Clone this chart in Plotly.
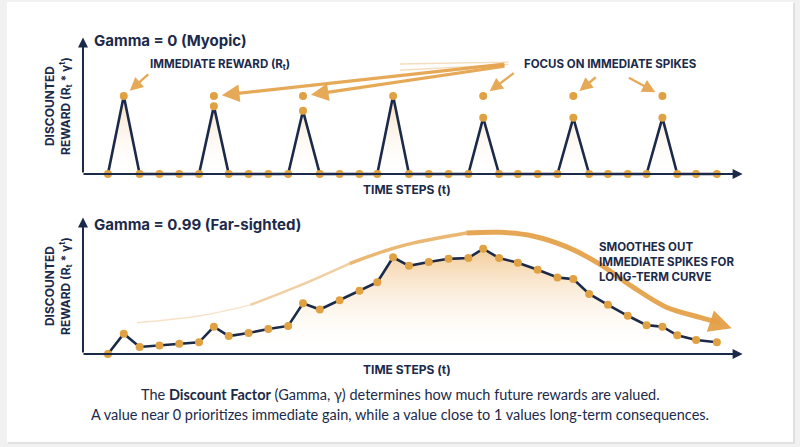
import plotly.graph_objects as go

# Time positions (shared by both panels) and rewards.
time_steps = [0, 0.8, 1.6, 2.6, 3.6, 4.6, 5.35, 6.1, 7.1, 8.1, 9.1, 9.85, 10.7, 11.7,
              12.7, 13.6, 14.4, 15.2, 16.2, 17.2, 18.2, 18.95, 19.75, 20.7, 21.7,
              22.7, 23.5, 24.3, 25.25, 26.25, 27.2, 28.0, 28.75, 29.7, 30.75]

# Gamma = 0: spikes only, the rest of the steps are zero.
myopic_reward = [0, 1.0, 0, 0, 0, 0, 0.87, 0, 0, 0, 0, 0.81, 0, 0,
                 0, 0, 1.0, 0, 0, 0, 0, 0.72, 0, 0, 0,
                 0, 0.72, 0, 0, 0, 0, 0.72, 0, 0, 0]
# Immediate rewards drawn as loose dots above the discounted spikes.
spike_steps = [5.35, 9.85, 18.95, 23.5, 28.0]
spike_reward = [1.0, 1.0, 1.0, 1.0, 1.0]

# Gamma = 0.99: smoothed long-term curve.
farsighted_reward = [0, 0.26, 0.09, 0.11, 0.13, 0.15, 0.35, 0.23, 0.27, 0.32, 0.36, 0.65,
                     0.57, 0.69, 0.81, 0.92, 1.24, 1.13, 1.18, 1.22, 1.23, 1.35, 1.23,
                     1.17, 1.08, 0.98, 0.96, 0.77, 0.63, 0.49, 0.37, 0.35, 0.24, 0.18, 0.15]

# Guide curve above the far-sighted panel.
arc_t = [1.46, 4.65, 7.2, 9.7, 12.2, 14.75, 18.1, 19.8, 21.5, 23.2, 24.85, 26.5, 28.2, 29.9, 30.9]
arc_y = [0.40, 0.49, 0.63, 0.88, 1.16, 1.38, 1.55, 1.56, 1.51, 1.37, 1.15, 0.86, 0.60, 0.47, 0.40]

NAVY = "#1c2a4a"
ORANGE = "#e0a143"
HEAD = "Inter"
BODY = "Lato"

X_RANGE = [-1.31, 32.17]
Y_RANGE = [-0.205, 1.846]
Y_TOP = 1.75

fig = go.Figure()

# Top panel
fig.add_trace(go.Scatter(x=time_steps, y=myopic_reward, mode="lines+markers",
                         line=dict(color=NAVY, width=2.6), marker=dict(color=ORANGE, size=8),
                         fill="tozeroy",
                         fillgradient=dict(type="vertical", colorscale=[[0, "rgba(255,255,255,0)"], [1, "rgba(232,166,80,0.4)"]]),
                         xaxis="x", yaxis="y"))
fig.add_trace(go.Scatter(x=spike_steps, y=spike_reward, mode="markers",
                         marker=dict(color=ORANGE, size=8), xaxis="x", yaxis="y"))

# Bottom panel - guide curve fading in from the left
arc_parts = [(0, 3, 1.5, 0.3), (2, 5, 2.5, 0.5), (4, 7, 3.5, 0.75), (6, 15, 5, 0.92)]
for i0, i1, w, a in arc_parts:
    fig.add_trace(go.Scatter(x=arc_t[i0:i1], y=arc_y[i0:i1], mode="lines",
                             line=dict(color=f"rgba(228,160,70,{a})", width=w, shape="spline"),
                             xaxis="x2", yaxis="y2"))
fig.add_trace(go.Scatter(x=time_steps, y=farsighted_reward, mode="lines+markers",
                         line=dict(color=NAVY, width=2.6), marker=dict(color=ORANGE, size=8),
                         fill="tozeroy",
                         fillgradient=dict(type="vertical", colorscale=[[0, "rgba(255,255,255,0)"], [1, "rgba(235,170,85,0.6)"]]),
                         xaxis="x2", yaxis="y2"))

ann = []


def label(x, y, text, size, xanchor="center", **kw):
    ann.append(dict(x=x / 800, y=(447 - y) / 447, xref="paper", yref="paper", text=text,
                    xanchor=xanchor, yanchor="middle", showarrow=False,
                    font=dict(family=kw.pop("family", HEAD), size=size, color=NAVY), **kw))


def axis_arrows(xr, yr):
    ann.append(dict(x=X_RANGE[1] - 0.12, y=0, ax=X_RANGE[0], ay=0, xref=xr, yref=yr, axref=xr, ayref=yr,
                    showarrow=True, arrowhead=2, arrowsize=1, arrowwidth=2, arrowcolor=NAVY, text=""))
    ann.append(dict(x=-1.26, y=Y_TOP, ax=-1.26, ay=0, xref=xr, yref=yr, axref=xr, ayref=yr,
                    showarrow=True, arrowhead=2, arrowsize=1, arrowwidth=2, arrowcolor=NAVY, text=""))
    ann.append(dict(x=15.1, y=-0.2, xref=xr, yref=yr, text="<b>TIME STEPS (t)</b>", showarrow=False,
                    xanchor="center", yanchor="middle", font=dict(family=HEAD, size=12, color=NAVY)))


axis_arrows("x", "y")
axis_arrows("x2", "y2")

ylabel = "<b>DISCOUNTED<br>REWARD (R<sub>t</sub> * γ<sup>t</sup>)</b>"
label(58, 106, ylabel, 12, textangle=-90)
label(58, 286, ylabel, 12, textangle=-90)

label(92, 40, "<b>Gamma = 0 (Myopic)</b>", 15, xanchor="left")
label(92, 224, "<b>Gamma = 0.99 (Far-sighted)</b>", 15, xanchor="left")
label(220, 64, "<b>IMMEDIATE REWARD (R<sub>t</sub>)</b>", 11.5)
label(610, 64, "<b>FOCUS ON IMMEDIATE SPIKES</b>", 11.5)
label(597, 262, "<b>SMOOTHES OUT<br>IMMEDIATE SPIKES FOR<br>LONG-TERM CURVE</b>", 11.5, xanchor="left", align="left")

# Orange pointers to the spikes (tail offsets in pixels)
pointers = [(0.8, 1.0, 26, -23, 2.4), (5.35, 1.0, 292, -32, 3.2), (9.85, 1.0, 203, -30, 3.2),
            (18.95, 1.0, 32, -24, 2.4), (23.5, 1.0, 24, -20, 2.4), (28.0, 1.0, -35, -19, 2.4)]
for px, py, ax, ay, w in pointers:
    ann.append(dict(x=px, y=py, ax=ax, ay=ay, xref="x", yref="y", text="", showarrow=True,
                    arrowhead=2, arrowsize=1.1, arrowwidth=w, arrowcolor="rgba(228,160,70,0.9)", standoff=8))
# faint fan strokes leaving the label
for t, y, ax, ay in [(14.75, 1.41, 110, -2), (14.75, 1.33, 110, -6)]:
    ann.append(dict(x=t, y=y, ax=ax, ay=ay, xref="x", yref="y", text="", showarrow=True, arrowhead=0,
                    arrowwidth=1.3, arrowcolor="rgba(228,160,70,0.35)"))

# Head of the guide curve
ann.append(dict(x=arc_t[-1] + 0.6, y=arc_y[-1] - 0.07, ax=-18, ay=-6, xref="x2", yref="y2", text="", showarrow=True,
                arrowhead=2, arrowsize=0.9, arrowwidth=5, arrowcolor="rgba(228,160,70,0.95)"))

label(400, 394, "The <b>Discount Factor</b> (Gamma, γ) determines how much future rewards are valued.", 14.5, family=BODY)
label(400, 414, "A value near 0 prioritizes immediate gain, while a value close to 1 values long-term consequences.", 14.5, family=BODY)

shapes = [
    dict(type="rect", xref="paper", yref="paper", x0=8 / 800, x1=795 / 800, y0=(447 - 444) / 447, y1=(447 - 3) / 447,
         fillcolor="rgba(0,0,0,0.07)", line=dict(width=0), layer="below"),
    dict(type="rect", xref="paper", yref="paper", x0=7 / 800, x1=793 / 800, y0=(447 - 442) / 447, y1=(447 - 2) / 447,
         fillcolor="white", line=dict(width=0), layer="below"),
]

hidden = dict(visible=False, fixedrange=True)
fig.update_layout(
    width=800, height=447, margin=dict(t=0, l=0, r=0, b=0),
    paper_bgcolor="#f1f1f1", plot_bgcolor="rgba(0,0,0,0)", showlegend=False,
    xaxis=dict(domain=[82 / 800, 745 / 800], range=X_RANGE, **hidden),
    yaxis=dict(domain=[(447 - 190) / 447, (447 - 30) / 447], range=Y_RANGE, **hidden),
    xaxis2=dict(domain=[82 / 800, 745 / 800], range=X_RANGE, anchor="y2", **hidden),
    yaxis2=dict(domain=[(447 - 370) / 447, (447 - 210) / 447], range=Y_RANGE, anchor="x2", **hidden),
    annotations=ann, shapes=shapes,
)
fig.write_html("out.html", config={"displayModeBar": False},
               post_script="document.body.style.margin='0px';")
